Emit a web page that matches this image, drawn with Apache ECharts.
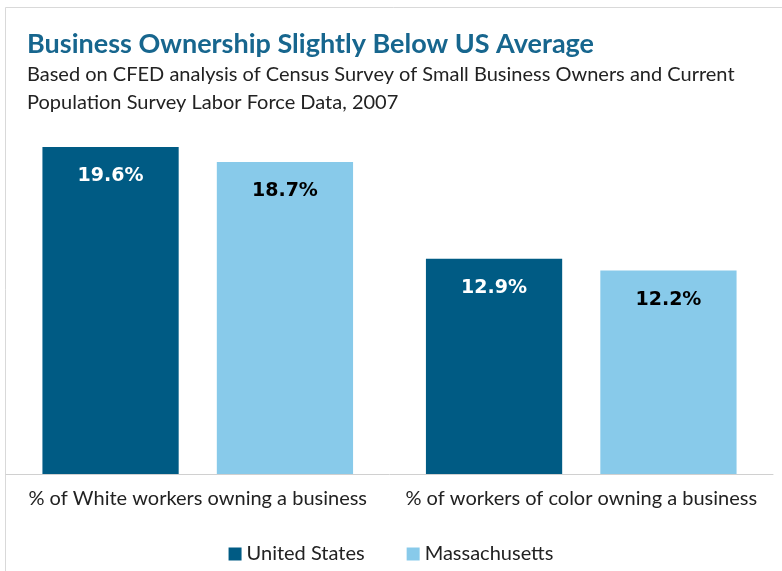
<!DOCTYPE html>
<html>
<head>
<meta charset="utf-8">
<script src="https://cdn.jsdelivr.net/npm/echarts@6/dist/echarts.min.js"></script>
<style>html,body{margin:0;padding:0;background:#fff}#c{width:782px;height:571px}</style>
</head>
<body>
<div id="c"></div>
<script>
const categories = ['% of White workers owning a business', '% of workers of color owning a business'];
const seriesNames = ['United States', 'Massachusetts'];
const usValues = [19.6, 12.9];
const maValues = [18.7, 12.2];

const chart = echarts.init(document.getElementById('c'));
const font = 'Lato, "Open Sans", sans-serif';
chart.setOption({
  animation: false,
  backgroundColor: '#fff',
  title: {
    text: 'Business Ownership Slightly Below US Average',
    subtext: 'Based on CFED analysis of Census Survey of Small Business Owners and Current\nPopulation Survey Labor Force Data, 2007',
    left: 22, top: 26,
    itemGap: 3,
    textStyle: {fontFamily: font, fontWeight: 'bold', fontSize: 27, color: '#17668e'},
    subtextStyle: {fontFamily: font, fontSize: 20, color: '#222', lineHeight: 28}
  },
  graphic: [
    {type: 'line', shape: {x1: 5.5, y1: 7.5, x2: 782, y2: 7.5}, style: {stroke: '#d9d9d9', lineWidth: 1}},
    {type: 'line', shape: {x1: 5.5, y1: 7.5, x2: 5.5, y2: 571}, style: {stroke: '#d9d9d9', lineWidth: 1}}
  ],
  legend: {
    bottom: 2, left: 'center',
    itemWidth: 13, itemHeight: 13, itemGap: 42,
    icon: 'rect',
    textStyle: {fontFamily: font, fontSize: 20, color: '#222'},
    data: seriesNames
  },
  grid: {left: 6, right: 9, top: 107, bottom: 97},
  xAxis: {
    type: 'category', data: categories,
    axisLine: {lineStyle: {color: '#d0d0d0'}},
    axisTick: {show: false},
    axisLabel: {fontFamily: font, fontSize: 20, color: '#222', margin: 15, interval: 0}
  },
  yAxis: {type: 'value', min: 0, max: 22, show: false, splitLine: {show: false}},
  series: [
    {name: seriesNames[0], type: 'bar', data: usValues, barGap: '28%', barCategoryGap: '19%',
     itemStyle: {color: '#005b84'},
     label: {show: true, position: 'insideTop', distance: 20, formatter: p => p.value.toFixed(1) + '%',
       fontFamily: 'DejaVu Sans', fontWeight: 'bold', fontSize: 19, color: '#fff'}},
    {name: seriesNames[1], type: 'bar', data: maValues, barGap: '28%', barCategoryGap: '19%',
     itemStyle: {color: '#88caea'},
     label: {show: true, position: 'insideTop', distance: 20, formatter: p => p.value.toFixed(1) + '%',
       fontFamily: 'DejaVu Sans', fontWeight: 'bold', fontSize: 19, color: '#000'}}
  ]
});
</script>
</body>
</html>
